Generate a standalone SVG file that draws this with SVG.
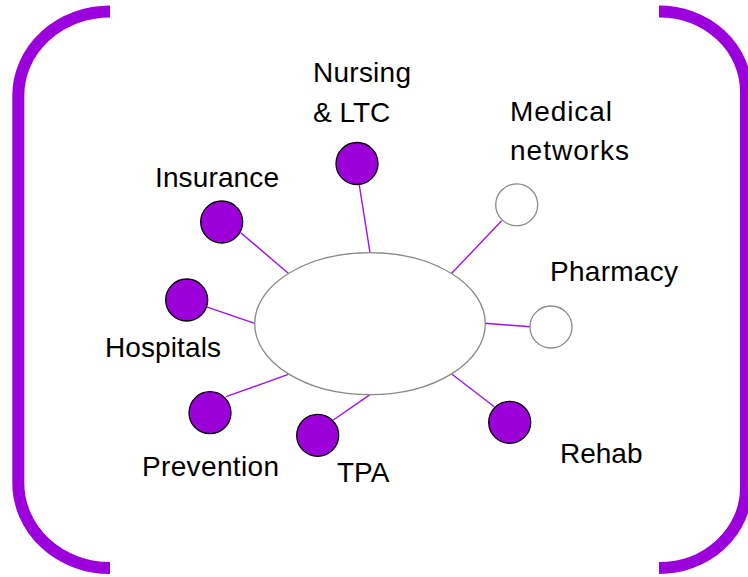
<svg xmlns="http://www.w3.org/2000/svg" width="748" height="577" viewBox="0 0 748 577">
<style>
.br{fill:none;stroke:#9B00DC;stroke-width:12}
.ln{stroke:#A010F0;stroke-width:1.4;fill:none}
.fc{fill:#9B00D8;stroke:#000;stroke-width:1.3}
.ec{fill:#fff;stroke:#888;stroke-width:1.3}
.t{font-family:"Liberation Sans",Arial,sans-serif;font-size:28px;fill:#000}
</style>
<rect width="748" height="577" fill="#fff"/>
<g id="brackets">
<path class="br" d="M110,11.5 A91.7,84 0 0 0 18.3,95.5 L18.3,483 A91.7,85 0 0 0 110,568"/>
<path class="br" d="M659,11.5 A87,80 0 0 1 746,91.5 L746,488 A87,80 0 0 1 659,568"/>
</g>
<g id="connectors">
<line class="ln" x1="240.7" y1="232.7" x2="288.3" y2="273.3"/>
<line class="ln" x1="359.3" y1="185" x2="370" y2="252.7"/>
<line class="ln" x1="206.6" y1="306.8" x2="254.7" y2="323.3"/>
<line class="ln" x1="226" y1="396.7" x2="288.3" y2="374.3"/>
<line class="ln" x1="333.3" y1="420" x2="370" y2="394.7"/>
<line class="ln" x1="501.7" y1="220.7" x2="451.7" y2="273.3"/>
<line class="ln" x1="485" y1="323.3" x2="530" y2="326.7"/>
<line class="ln" x1="451.7" y1="374" x2="494.3" y2="406.7"/>
</g>
<g id="hub"><ellipse class="ec" cx="370" cy="323.7" rx="115.3" ry="71"/></g>
<g id="nursing"><circle class="fc" cx="357" cy="163.5" r="21"/><text class="t" x="313" y="82" textLength="98">Nursing</text><text class="t" x="313" y="122">&amp; LTC</text></g>
<g id="medical"><circle class="ec" cx="516.7" cy="204.8" r="21"/><text class="t" x="510" y="121" textLength="102">Medical</text><text class="t" x="510" y="160" textLength="119">networks</text></g>
<g id="insurance"><circle class="fc" cx="221.7" cy="222" r="21"/><text class="t" x="155" y="187" textLength="124">Insurance</text></g>
<g id="hospitals"><circle class="fc" cx="186.7" cy="300" r="21"/><text class="t" x="105" y="357" textLength="116">Hospitals</text></g>
<g id="pharmacy"><circle class="ec" cx="551" cy="327" r="21"/><text class="t" x="550" y="281" textLength="128">Pharmacy</text></g>
<g id="prevention"><circle class="fc" cx="210" cy="412.7" r="21"/><text class="t" x="142" y="476" textLength="137">Prevention</text></g>
<g id="tpa"><circle class="fc" cx="317.7" cy="435.3" r="21"/><text class="t" x="337" y="482">TPA</text></g>
<g id="rehab"><circle class="fc" cx="509.7" cy="422.3" r="21"/><text class="t" x="560" y="463">Rehab</text></g>
</svg>
